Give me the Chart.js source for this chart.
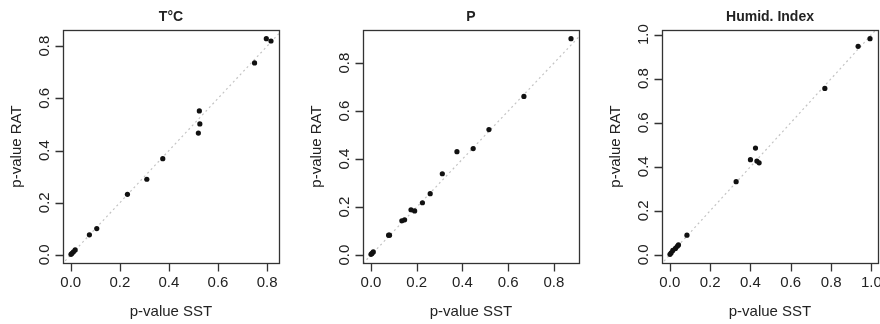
<!DOCTYPE html>
<html>
<head>
<meta charset="utf-8">
<script src="https://cdn.jsdelivr.net/npm/chart.js@4/dist/chart.umd.min.js"></script>
<style>
  body { margin: 0; width: 880px; height: 324px; overflow: hidden; background: #fff; position: relative; }
  .panel { position: absolute; top: 0; width: 300px; height: 324px; }
</style>
</head>
<body>
<div class="panel" style="left:-7px"><canvas id="tempChart" width="300" height="324"></canvas></div>
<div class="panel" style="left:293px"><canvas id="precChart" width="300" height="324"></canvas></div>
<div class="panel" style="left:592px"><canvas id="humidChart" width="300" height="324"></canvas></div>
<script>
// p-values
const tempSST = [0.797, 0.816, 0.749, 0.524, 0.526, 0.520, 0.375, 0.310, 0.231, 0.106, 0.076, 0.018, 0.011, 0.005, 0.001];
const tempRAT = [0.829, 0.820, 0.736, 0.552, 0.502, 0.467, 0.369, 0.290, 0.232, 0.101, 0.077, 0.019, 0.012, 0.006, 0.002];

const precSST = [0.875, 0.669, 0.516, 0.447, 0.376, 0.312, 0.259, 0.225, 0.191, 0.175, 0.147, 0.135, 0.081, 0.077, 0.010, 0.004, 0.000];
const precRAT = [0.902, 0.661, 0.523, 0.444, 0.431, 0.339, 0.256, 0.218, 0.184, 0.189, 0.147, 0.143, 0.083, 0.083, 0.013, 0.007, 0.003];

const humidSST = [0.993, 0.934, 0.769, 0.425, 0.400, 0.432, 0.443, 0.329, 0.085, 0.043, 0.037, 0.028, 0.015, 0.007, 0.001];
const humidRAT = [0.982, 0.947, 0.756, 0.485, 0.432, 0.426, 0.418, 0.332, 0.089, 0.045, 0.039, 0.029, 0.020, 0.009, 0.002];

const refLine = [-1, 2]; // y = x reference
const xTitle = 'p-value SST';
const yTitle = 'p-value RAT';

const FONT = '"Liberation Sans", Arial, sans-serif';
const INK = '#222';
const BOX = '#333';

// R style: box, tick marks, rotated y labels, title over the plot region
const rPlot = {
  id: 'rPlot',
  afterDraw(chart, args, opts) {
    const { ctx, chartArea: a, scales } = chart;
    const xs = scales.x, ys = scales.y;
    const L = Math.round(a.left) + 0.5, B = Math.round(a.bottom) + 0.5;
    ctx.save();
    ctx.strokeStyle = BOX;
    ctx.lineWidth = 1.3;
    ctx.strokeRect(L, Math.round(a.top) + 0.5,
      Math.round(a.right - a.left), Math.round(a.bottom - a.top));
    ctx.beginPath();
    xs.ticks.forEach(t => {
      const px = Math.round(xs.getPixelForValue(t.value)) + 0.5;
      ctx.moveTo(px, B);
      ctx.lineTo(px, B + 8);
    });
    ys.ticks.forEach(t => {
      const py = Math.round(ys.getPixelForValue(t.value)) + 0.5;
      ctx.moveTo(L, py);
      ctx.lineTo(L - 8, py);
    });
    ctx.stroke();

    ctx.fillStyle = INK;
    ctx.textAlign = 'center';
    ctx.textBaseline = 'middle';
    ctx.font = '15px ' + FONT;
    ys.ticks.forEach(t => {
      ctx.save();
      ctx.translate(a.left - 18, ys.getPixelForValue(t.value));
      ctx.rotate(-Math.PI / 2);
      ctx.fillText(t.value.toFixed(1), 0, 0);
      ctx.restore();
    });
    ctx.save();
    ctx.translate(a.left - 46, (a.top + a.bottom) / 2);
    ctx.rotate(-Math.PI / 2);
    ctx.fillText(yTitle, 0, 0);
    ctx.restore();

    ctx.font = 'bold 14px ' + FONT;
    ctx.fillText(opts.text, (a.left + a.right) / 2, 17);
    ctx.restore();
  }
};

function padded(vals) {
  const lo = Math.min(...vals), hi = Math.max(...vals);
  const d = (hi - lo) * 0.04;
  return [lo - d, hi + d];
}

function makePlot(id, title, xs, ys) {
  const [xmin, xmax] = padded(xs);
  const [ymin, ymax] = padded(ys);
  new Chart(document.getElementById(id).getContext('2d'), {
    type: 'scatter',
    data: {
      datasets: [{
        data: xs.map((x, i) => ({ x: x, y: ys[i] })),
        backgroundColor: '#111',
        borderWidth: 0,
        pointRadius: 2.6,
        order: 0
      }, {
        type: 'line',
        data: refLine.map(v => ({ x: v, y: v })),
        borderColor: '#c4c4c4',
        borderWidth: 1.2,
        borderDash: [2, 3],
        pointRadius: 0,
        order: 1
      }]
    },
    options: {
      responsive: false,
      animation: false,
      layout: { padding: { top: 30, right: 14 } },
      plugins: {
        legend: { display: false },
        tooltip: { enabled: false },
        title: { display: false },
        rPlot: { text: title }
      },
      scales: {
        x: {
          type: 'linear',
          min: xmin, max: xmax,
          grid: { display: false },
          border: { display: false },
          ticks: {
            stepSize: 0.2, includeBounds: false, maxRotation: 0, padding: 3,
            color: INK, font: { family: FONT, size: 15 },
            callback: v => v.toFixed(1)
          },
          title: { display: true, text: xTitle, color: INK, font: { family: FONT, size: 15 }, padding: { top: 0, bottom: 3 } },
          afterFit: s => { s.height = 61; }
        },
        y: {
          type: 'linear',
          min: ymin, max: ymax,
          grid: { display: false },
          border: { display: false },
          ticks: { stepSize: 0.2, includeBounds: false, display: false },
          afterFit: s => { s.width = 70; }
        }
      }
    },
    plugins: [rPlot]
  });
}

makePlot('tempChart', 'T°C', tempSST, tempRAT);
makePlot('precChart', 'P', precSST, precRAT);
makePlot('humidChart', 'Humid. Index', humidSST, humidRAT);
</script>
</body>
</html>
